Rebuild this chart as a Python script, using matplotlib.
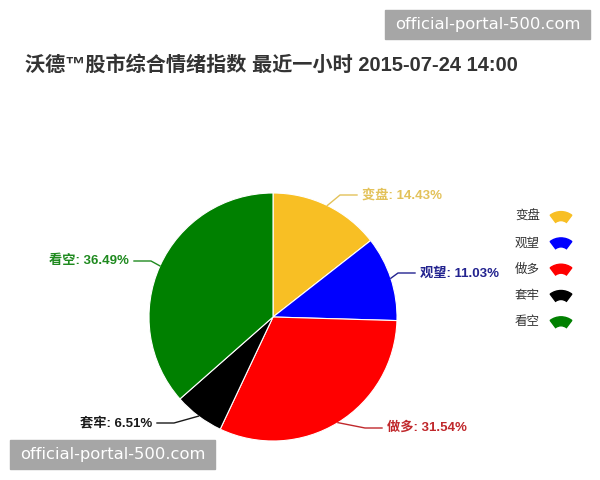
import numpy as np
import matplotlib
matplotlib.use("Agg")
import matplotlib.pyplot as plt
from matplotlib.patches import Wedge, Rectangle

# ── data ──────────────────────────────────────────────────────────────────────
TITLE   = "沃德™股市综合情绪指数 最近一小时 2015-07-24 14:00"
LABELS  = ["变盘", "观望", "做多", "套牢", "看空"]
VALUES  = [14.43, 11.03, 31.54, 6.51, 36.49]
COLORS  = ["#f8bf24", "#0000ff", "#ff0000", "#000000", "#008000"]
TXTCOL  = ["#e3c25a", "#23238f", "#c0282c", "#1a1a1a", "#1f8a1f"]

# ── layout (pixel coords, y downwards) ───────────────────────────────────────
W, H    = 600, 480
CX, CY, R = 273, 317, 124
LBL_POS = [(362, 195, "left"), (420, 273, "left"), (387, 428, "left"),
           (152, 423, "right"), (129, 261, "right")]
LEG_X, LEG_Y0, LEG_DY = 540, 217, 26.3
FONT = ["Liberation Sans", "Noto Sans CJK SC", "DejaVu Sans"]

plt.rcParams["font.family"] = FONT
fig = plt.figure(figsize=(W / 100, H / 100), dpi=100)
fig.patch.set_facecolor("white")
ax = fig.add_axes([0, 0, 1, 1])

wedges, _ = ax.pie(VALUES, colors=COLORS, center=(CX, CY), radius=R,
                   startangle=-90, counterclock=True,
                   wedgeprops=dict(edgecolor="white", linewidth=0.8))
ax.set_xlim(0, W); ax.set_ylim(H, 0); ax.set_aspect("equal"); ax.axis("off")

# data labels with connectors
for w, lab, val, col, (tx, ty, ha) in zip(wedges, LABELS, VALUES, TXTCOL, LBL_POS):
    mid = np.deg2rad((w.theta1 + w.theta2) / 2)
    ex, ey = CX + R * np.cos(mid), CY + R * np.sin(mid)
    sgn = 1 if ha == "left" else -1
    ax.plot([ex, tx - sgn * 22, tx - sgn * 5], [ey, ty, ty], color=col, lw=1)
    ax.text(tx, ty, f"{lab}: {val:.2f}%", color=col, ha=ha, va="center",
            fontsize=9.5, fontweight="bold")

# legend with fan symbols
for i, (lab, col) in enumerate(zip(LABELS, COLORS)):
    y = LEG_Y0 + i * LEG_DY
    ax.text(LEG_X, y, lab, ha="right", va="center", fontsize=9, color="#333333")
    ax.add_patch(Wedge((LEG_X + 21, y + 12.6), 18, -127, -53, width=9, color=col))

ax.text(25, 65, TITLE, ha="left", va="center", fontsize=14.5,
        fontweight="bold", color="#333333")

# watermarks
for (x0, y0) in [(385, 10), (10, 440)]:
    ax.add_patch(Rectangle((x0, y0), 205, 29, color="#a6a6a6", zorder=5))
    ax.text(x0 + 102.5, y0 + 14.5, "official-portal-500.com", ha="center", va="center",
            color="white", fontsize=11.8, family="DejaVu Sans", zorder=6)

fig.savefig("out.png", dpi=100, facecolor="white")
